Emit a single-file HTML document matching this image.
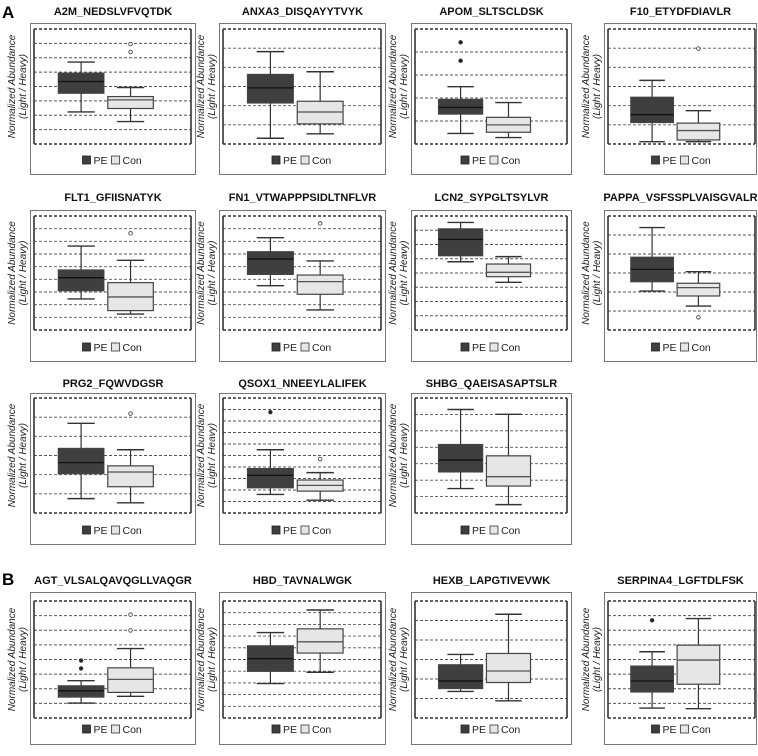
<!DOCTYPE html>
<html><head><meta charset="utf-8">
<style>
html,body{margin:0;padding:0;background:#fff;}
svg{display:block;font-family:"Liberation Sans",Arial,sans-serif;}
</style></head>
<body>
<svg id="fig" width="758" height="756" viewBox="0 0 758 756" xmlns="http://www.w3.org/2000/svg">
<text x="2" y="18" font-size="17" font-weight="bold">A</text>
<text x="2" y="585" font-size="17" font-weight="bold">B</text>
</svg>
<script>
const titles = ["A2M_NEDSLVFVQTDK","ANXA3_DISQAYYTVYK","APOM_SLTSCLDSK","F10_ETYDFDIAVLR",
"FLT1_GFIISNATYK","FN1_VTWAPPPSIDLTNFLVR","LCN2_SYPGLTSYLVR","PAPPA_VSFSSPLVAISGVALR",
"PRG2_FQWVDGSR","QSOX1_NNEEYLALIFEK","SHBG_QAEISASAPTSLR",
"AGT_VLSALQAVQGLLVAQGR","HBD_TAVNALWGK","HEXB_LAPGTIVEVWK","SERPINA4_LGFTDLFSK"];
const panelRow = [0,0,0,0,1,1,1,1,2,2,2,3,3,3,3];
const panelCol = [0,1,2,3,0,1,2,3,0,1,2,0,1,2,3];
const gridCounts = [8,6,5,6,9,9,8,6,6,10,7,8,10,6,8];
// [lowWhisker, q1, median, q3, highWhisker] in grid units
const peStats = [
[2.23,3.53,4.35,4.93,5.7],[0.3,2.14,2.93,3.63,4.82],[0.46,1.3,1.59,1.94,2.49],[0.12,1.12,1.53,2.44,3.32],
[2.45,3.1,4.13,4.74,6.63],[3.5,4.39,5.61,6.18,7.29],[4.79,5.21,6.36,7.1,7.55],[2.05,2.54,3.19,3.83,5.39],
[0.75,2.05,2.63,3.37,4.68],[1.61,2.19,3.27,3.86,5.5],[1.49,2.5,3.23,4.17,6.3],
[1.02,1.43,1.86,2.2,2.55],[2.94,3.99,5.07,6.17,7.3],[1.36,1.51,1.9,2.73,3.26],[0.68,1.78,2.53,3.55,4.53]];
const conStats = [
[1.56,2.47,3.07,3.3,3.93],[0.53,1.05,1.67,2.23,3.77],[0.28,0.51,0.83,1.16,1.8],[0.12,0.21,0.7,1.09,1.74],
[1.26,1.53,2.61,3.74,5.5],[1.58,2.82,3.82,4.34,5.45],[3.35,3.74,4.05,4.63,5.15],[1.26,1.79,2.23,2.46,3.07],
[0.53,1.37,2.14,2.46,3.3],[1.11,1.9,2.4,2.87,3.51],[0.51,1.64,2.21,3.48,6.01],
[1.48,1.75,2.64,3.43,4.75],[3.91,5.55,6.51,7.62,9.23],[0.88,1.82,2.41,3.31,5.32],[0.64,2.31,3.96,4.98,6.8]];
const peOutliers = [[],[],[4.42,3.62],[],[],[],[],[],[],[8.77],[],[3.93,3.39],[],[],[6.68]];
const conOutliers = [[6.95,6.4],[],[],[4.98],[7.63],[8.42],[],[0.67],[5.19],[4.68],[],[7.07,5.99],[],[],[]];

const colX = [30,219,411,604];
const colW = [166,167,161,153];
const rowY = [23,210,393,592];
const rowH = [152,152,152,153];
const innerTop = [6,6,5,9];
const innerH = [115,114,115,117];
const titleY = [15,201,387,584];

const NS = "http://www.w3.org/2000/svg";
const svg = document.getElementById('fig');
function mk(tag, attrs, parent){
  const e = document.createElementNS(NS, tag);
  for (const k in attrs) e.setAttribute(k, attrs[k]);
  (parent||svg).appendChild(e);
  return e;
}

titles.forEach((t,i)=>{
  const r = panelRow[i], c = panelCol[i];
  const ox = colX[c], oy = rowY[r], ow = colW[c], oh = rowH[r];
  const g = mk('g', {});
  
  
  const tt = mk('text', {x: ox+ow/2, y: titleY[r], 'font-size': 11, 'font-weight': 'bold', 'text-anchor': 'middle', fill: '#111'}, g);
  tt.textContent = t;
  
  
  const ob = mk('rect', {x: ox+0.5, y: oy+0.5, width: ow-1, height: oh-1, fill: 'none', stroke: '#777', 'stroke-width': 1}, g);
  
  
  // y-axis title
  const cy = oy + innerTop[r] + innerH[r]/2;
  const yl = mk('text', {x: 0, y: 0, 'font-size': 10, 'font-style': 'italic', 'text-anchor': 'middle', fill: '#222',
    transform: 'translate(' + (ox-15) + ',' + cy + ') rotate(-90)'}, g);
  yl.textContent = 'Normalized Abundance';
  
  
  const yl2 = mk('text', {x: 0, y: 0, 'font-size': 10, 'font-style': 'italic', 'text-anchor': 'middle', fill: '#222',
    transform: 'translate(' + (ox-4) + ',' + cy + ') rotate(-90)'}, g);
  yl2.textContent = '(Light / Heavy)';
  
  
  // plot area
  const px = ox + 4, pw = ow - (c===3 ? 6 : 9), py = oy + innerTop[r], ph = innerH[r];
  const n = gridCounts[i];
  const yScale = v => py + ph - v/n*ph;
  const xScale = f => px + f*pw;
  for (let k=0;k<=n;k++){
    const gy = yScale(k);
    const edge = (k===0||k===n);
    const gl = mk('line', {x1: px, x2: px+pw, y1: gy, y2: gy, stroke: edge?'#333':'#555', 'stroke-width': edge?1.6:0.9, 'stroke-dasharray': '3,2'}, g);
    
    
  }
  mk('line', {x1: px, x2: px, y1: py, y2: py+ph, stroke: '#333', 'stroke-width': 1.6}, g);
  mk('line', {x1: px+pw, x2: px+pw, y1: py, y2: py+ph, stroke: '#333', 'stroke-width': 1.6}, g);
  // boxes
  const series = [
    {s: peStats[i], o: peOutliers[i], f0: 0.155, f1: 0.445, fill: '#3f3f3f', dot: '#222', name: 'pe'},
    {s: conStats[i], o: conOutliers[i], f0: 0.47, f1: 0.76, fill: '#e6e6e6', dot: '#fff', name: 'con'}];
  series.forEach(se=>{
    const [lo,q1,md,q3,hi] = se.s;
    const x0 = xScale(se.f0), x1 = xScale(se.f1), xm = (x0+x1)/2, cw = (x1-x0)*0.3;
    const bg = mk('g', {}, g);
    
    
    mk('line', {x1: xm, x2: xm, y1: yScale(hi), y2: yScale(lo), stroke: '#333', 'stroke-width': 1.2}, bg);
    mk('line', {x1: xm-cw, x2: xm+cw, y1: yScale(hi), y2: yScale(hi), stroke: '#333', 'stroke-width': 1.4}, bg);
    mk('line', {x1: xm-cw, x2: xm+cw, y1: yScale(lo), y2: yScale(lo), stroke: '#333', 'stroke-width': 1.4}, bg);
    mk('rect', {x: x0, y: yScale(q3), width: x1-x0, height: yScale(q1)-yScale(q3), fill: se.fill, stroke: '#444', 'stroke-width': 1.2}, bg);
    mk('line', {x1: x0, x2: x1, y1: yScale(md), y2: yScale(md), stroke: se.name==='pe'?'#111':'#555', 'stroke-width': 1.3}, bg);
    se.o.forEach(v=>{
      const oc = mk('circle', {cx: xm, cy: yScale(v), r: 1.8, fill: se.dot, stroke: '#333', 'stroke-width': 0.8}, bg);
      
      
    });
  });
  // legend
  const ly = oy + 137, lx = px + pw/2 - 30;
  const lg = mk('g', {}, g);
  
  
  mk('rect', {x: lx, y: ly-4, width: 8, height: 8, fill: '#3f3f3f', stroke: '#222', 'stroke-width': 0.8}, lg);
  const t1 = mk('text', {x: lx+11, y: ly+4, 'font-size': 10.5, fill: '#222'}, lg); t1.textContent = 'PE';
  mk('rect', {x: lx+29, y: ly-4, width: 8, height: 8, fill: '#e6e6e6', stroke: '#333', 'stroke-width': 0.8}, lg);
  const t2 = mk('text', {x: lx+40, y: ly+4, 'font-size': 10.5, fill: '#222'}, lg); t2.textContent = 'Con';
});
</script>
</body></html>
